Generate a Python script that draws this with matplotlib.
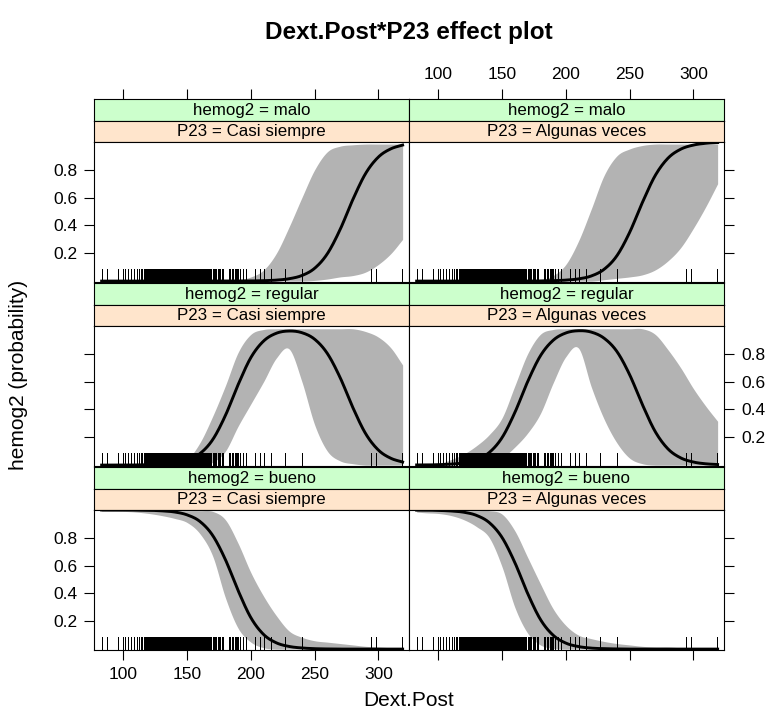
import numpy as np
import matplotlib
matplotlib.use("Agg")
import matplotlib.pyplot as plt
from matplotlib.transforms import blended_transform_factory

plt.rcParams['font.family'] = ['Liberation Sans', 'DejaVu Sans']

# grid of Dext.Post values where the curves were read
dext = [83, 90, 100, 110, 120, 130, 140, 150, 160, 170, 180, 190, 200,
        210, 220, 230, 240, 250, 260, 270, 280, 290, 300, 310, 319]

# hemog2 = malo
malo_cs_fit = [0, 0, 0, 0, 0, 0, 0, 0, 0, 0, 0, 0.001, 0.001, 0.003, 0.007, 0.017,
               0.040, 0.092, 0.197, 0.371, 0.587, 0.774, 0.892, 0.952, 0.978]
malo_cs_lo = [0, 0, 0, 0, 0, 0, 0, 0, 0, 0, 0, 0, 0, 0, 0, 0, 0,
              0.005, 0.015, 0.03, 0.04, 0.065, 0.12, 0.20, 0.30]
malo_cs_hi = [0, 0, 0, 0, 0, 0, 0, 0, 0, 0, 0.005, 0.01, 0.03, 0.08, 0.20, 0.39,
              0.60, 0.80, 0.93, 0.97, 0.98, 0.985, 0.985, 0.985, 0.985]
malo_av_fit = [0, 0, 0, 0, 0, 0, 0, 0, 0, 0, 0.001, 0.003, 0.007, 0.016, 0.037, 0.085,
               0.182, 0.35, 0.565, 0.758, 0.883, 0.948, 0.978, 0.991, 0.996]
malo_av_lo = [0, 0, 0, 0, 0, 0, 0, 0, 0, 0, 0, 0, 0, 0, 0, 0.01,
              0.02, 0.03, 0.045, 0.08, 0.145, 0.24, 0.38, 0.54, 0.70]
malo_av_hi = [0, 0, 0, 0, 0, 0, 0, 0, 0, 0.003, 0.01, 0.04, 0.12, 0.29, 0.52, 0.76,
              0.90, 0.95, 0.975, 0.985, 0.985, 0.985, 0.985, 0.985, 0.985]

# hemog2 = regular
reg_cs_fit = [0, 0, 0, 0.001, 0.002, 0.006, 0.014, 0.035, 0.082, 0.182, 0.356, 0.578, 0.773,
              0.892, 0.948, 0.964, 0.952, 0.905, 0.802, 0.629, 0.413, 0.226, 0.108, 0.048, 0.022]
reg_cs_lo = [0, 0, 0, 0, 0, 0, 0, 0, 0, 0.02, 0.10, 0.28, 0.44,
             0.60, 0.77, 0.835, 0.60, 0.29, 0.10, 0.03, 0.01, 0, 0, 0, 0]
reg_cs_hi = [0, 0, 0, 0, 0, 0.003, 0.01, 0.04, 0.16, 0.35, 0.57, 0.81, 0.94,
             0.975, 0.98, 0.98, 0.98, 0.98, 0.98, 0.98, 0.98, 0.96, 0.92, 0.84, 0.72]
reg_av_fit = [0.001, 0.001, 0.003, 0.007, 0.016, 0.039, 0.091, 0.198, 0.378, 0.599, 0.785, 0.897, 0.950,
              0.966, 0.956, 0.912, 0.817, 0.650, 0.435, 0.242, 0.117, 0.052, 0.022, 0.009, 0.004]
reg_av_lo = [0, 0, 0, 0, 0, 0, 0, 0.05, 0.13, 0.23, 0.37, 0.59, 0.78,
             0.84, 0.56, 0.33, 0.16, 0.05, 0.01, 0, 0, 0, 0, 0, 0]
reg_av_hi = [0, 0, 0.01, 0.04, 0.08, 0.14, 0.22, 0.34, 0.57, 0.80, 0.94, 0.975, 0.98,
             0.98, 0.98, 0.98, 0.98, 0.98, 0.98, 0.94, 0.83, 0.70, 0.55, 0.42, 0.315]

# hemog2 = bueno
bueno_cs_fit = [1.0, 1.0, 1.0, 0.999, 0.998, 0.994, 0.986, 0.965, 0.918, 0.818, 0.644, 0.421, 0.226,
                0.105, 0.045, 0.019, 0.008, 0.003, 0.001, 0, 0, 0, 0, 0, 0]
bueno_cs_lo = [0.99, 0.99, 0.99, 0.985, 0.975, 0.96, 0.94, 0.91, 0.83, 0.67, 0.37, 0.15, 0.05,
               0.01, 0, 0, 0, 0, 0, 0, 0, 0, 0, 0, 0]
bueno_cs_hi = [0.995, 0.995, 0.995, 0.995, 0.995, 0.995, 0.995, 0.995, 0.995, 0.99, 0.93, 0.76, 0.55,
               0.38, 0.24, 0.13, 0.085, 0.06, 0.05, 0.04, 0.03, 0.02, 0.015, 0.01, 0.01]
bueno_av_fit = [0.999, 0.999, 0.997, 0.993, 0.984, 0.961, 0.909, 0.802, 0.622, 0.401, 0.214, 0.100, 0.043,
                0.018, 0.007, 0.003, 0.001, 0, 0, 0, 0, 0, 0, 0, 0]
bueno_av_lo = [0.985, 0.98, 0.975, 0.96, 0.93, 0.88, 0.80, 0.59, 0.30, 0.115, 0.03, 0.005, 0,
               0, 0, 0, 0, 0, 0, 0, 0, 0, 0, 0, 0]
bueno_av_hi = [0.995, 0.995, 0.995, 0.995, 0.995, 0.995, 0.995, 0.97, 0.85, 0.66, 0.47, 0.29, 0.17,
               0.10, 0.075, 0.055, 0.04, 0.03, 0.02, 0.015, 0.015, 0.01, 0.01, 0.01, 0.01]

# observed Dext.Post values (rug)
rug = [83.5, 87, 96, 99.5, 101.5, 103.5, 106, 108.5, 110.5, 112, 114, 115, 116, 117, 118,
       118.5, 119, 119.5, 120, 120.5, 121, 121.5, 122, 122.5, 123, 123.5, 124, 124.5, 125,
       125.5, 126, 126.5, 127, 127.5, 128, 128.5, 129, 129.5, 130, 130.5, 131, 131.5, 132,
       132.5, 133, 133.5, 134, 134.5, 135, 135.5, 136, 136.5, 137, 137.5, 138, 138.5, 139,
       139.5, 140, 140.5, 141, 141.5, 142, 142.5, 143, 143.5, 144, 144.5, 145, 145.5, 146,
       146.5, 147, 147.5, 148, 148.5, 149, 149.5, 150, 150.5, 151, 151.5, 152, 152.5, 153,
       153.5, 154, 154.5, 155, 155.5, 156, 156.5, 157, 157.5, 158, 158.5, 159, 159.5, 160,
       160.5, 161, 161.5, 162, 162.5, 163, 163.5, 164, 164.5, 165, 165.5, 166, 166.5, 167,
       167.5, 168, 169, 170, 170.5, 171, 172, 173, 174, 175, 176, 177, 178, 182.5, 183.5,
       184, 185, 186, 187.5, 188.5, 189, 190, 191.5, 193.5, 196, 203, 207, 210, 216, 227,
       240, 294, 298, 318.5]

levels = ["malo", "regular", "bueno"]
p23 = ["Casi siempre", "Algunas veces"]
panels = [[(malo_cs_fit, malo_cs_lo, malo_cs_hi), (malo_av_fit, malo_av_lo, malo_av_hi)],
          [(reg_cs_fit, reg_cs_lo, reg_cs_hi), (reg_av_fit, reg_av_lo, reg_av_hi)],
          [(bueno_cs_fit, bueno_cs_lo, bueno_cs_hi), (bueno_av_fit, bueno_av_lo, bueno_av_hi)]]


def smooth(x, y, n=400):
    # cubic hermite through the read points, only for drawing
    x = np.asarray(x, float)
    y = np.asarray(y, float)
    d = np.gradient(y, x)
    xf = np.linspace(x[0], x[-1], n)
    i = np.clip(np.searchsorted(x, xf) - 1, 0, len(x) - 2)
    h = x[i + 1] - x[i]
    t = (xf - x[i]) / h
    yf = ((2 * t**3 - 3 * t**2 + 1) * y[i] + (t**3 - 2 * t**2 + t) * h * d[i]
          + (-2 * t**3 + 3 * t**2) * y[i + 1] + (t**3 - t**2) * h * d[i + 1])
    return xf, np.clip(yf, 0, 1)


W, H = 775, 722
fig = plt.figure(figsize=(W / 100, H / 100), dpi=100)


def box(x0, y0, x1, y1):
    return [x0 / W, 1 - y1 / H, (x1 - x0) / W, (y1 - y0) / H]


cols = [(94, 409), (409, 724)]
row_tops = [99, 283, 467]
xticks = [100, 150, 200, 250, 300]
yticks = [0.2, 0.4, 0.6, 0.8]
xlim = (77, 324)
ylim = (-0.0065, 1.0)
tick_kw = dict(direction="out", length=7.2, width=0.8, labelsize=12.5, pad=5)

for r in range(3):
    top = row_tops[r]
    for c in range(2):
        x0, x1 = cols[c]
        green = fig.add_axes(box(x0, top, x1, top + 21.5))
        orange = fig.add_axes(box(x0, top + 21.5, x1, top + 43))
        ax = fig.add_axes(box(x0, top + 43, x1, top + 183))

        for s, col, txt in [(green, "#ccffcc", "hemog2 = " + levels[r]),
                            (orange, "#ffe5cc", "P23 = " + p23[c])]:
            s.set_facecolor(col)
            s.set_xlim(xlim)
            s.set_yticks([])
            s.set_xticks([])
            s.text(0.5, 0.48, txt, ha="center", va="center", fontsize=12.2, transform=s.transAxes)
            for sp in s.spines.values():
                sp.set_linewidth(0.8)

        if r == 0:
            green.set_xticks(xticks)
            green.xaxis.set_ticks_position("top")
            green.tick_params(axis="x", **tick_kw, labeltop=(c == 1), labelbottom=False)

        fit, lo, hi = panels[r][c]
        xf, lof = smooth(dext, lo)
        _, hif = smooth(dext, hi)
        _, fitf = smooth(dext, fit)
        ax.fill_between(xf, lof, hif, color="#b3b3b3", lw=0)
        tr = blended_transform_factory(ax.transData, ax.transAxes)
        ax.vlines(rug, 0, 0.09, transform=tr, color="black", lw=0.7, antialiased=False)
        ax.plot(xf, fitf, color="black", lw=2.1)
        ax.set_xlim(xlim)
        ax.set_ylim(ylim)
        for sp in ax.spines.values():
            sp.set_linewidth(0.8)

        ax.set_yticks(yticks)
        ax.set_yticklabels([f"{v:.1f}" for v in yticks])
        if c == 0:
            ax.tick_params(axis="y", left=True, right=False, labelleft=(r != 1),
                           labelright=False, **tick_kw)
        else:
            ax.tick_params(axis="y", left=False, right=True, labelleft=False,
                           labelright=(r == 1), **tick_kw)

        ax.set_xticks(xticks)
        if r == 2:
            ax.tick_params(axis="x", bottom=True, top=False, labelbottom=(c == 0), **tick_kw)
        else:
            ax.tick_params(axis="x", bottom=False, top=False, labelbottom=False)

fig.text(409 / W, 1 - 33 / H, "Dext.Post*P23 effect plot", ha="center", va="center",
         fontsize=17.5, fontweight="bold")
fig.text(409 / W, 1 - 700 / H, "Dext.Post", ha="center", va="center", fontsize=15)
fig.text(19 / W, 1 - 375 / H, "hemog2 (probability)", ha="center", va="center",
         fontsize=15, rotation=90)

fig.savefig("out.png", dpi=100)
